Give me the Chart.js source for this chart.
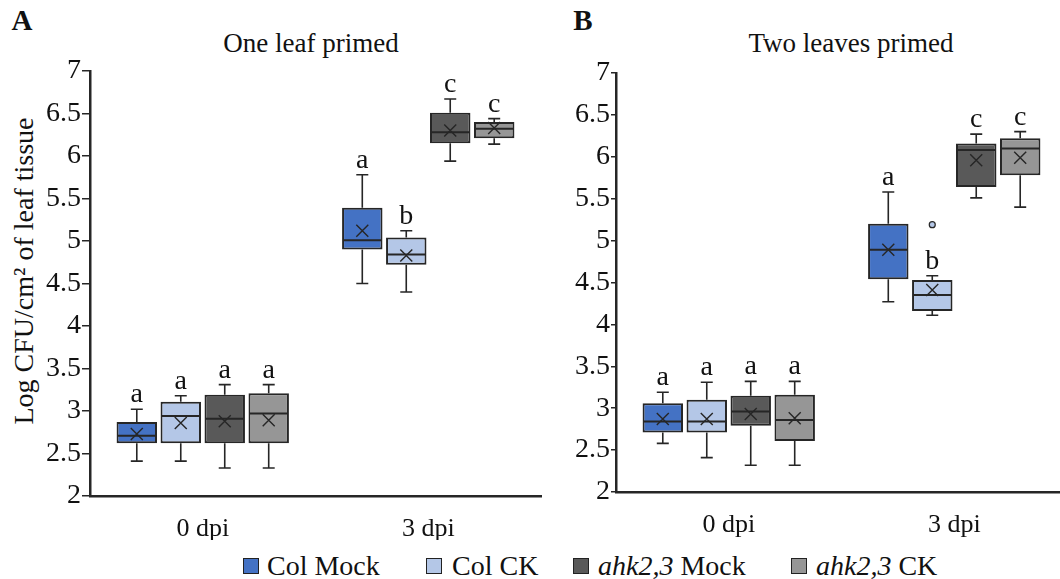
<!DOCTYPE html>
<html>
<head>
<meta charset="utf-8">
<script src="https://cdn.jsdelivr.net/npm/chart.js@4"></script>
<style>
  html, body { margin: 0; padding: 0; background: #fff; overflow: hidden; }
  body { width: 1060px; height: 579px; position: relative; font-family: "Liberation Serif", "Times New Roman", serif; color: #111; }
  canvas { position: absolute; top: 0; }
  .txt { position: absolute; white-space: nowrap; line-height: 1; transform: translate(-50%, -50%); }
  .letter { font-weight: bold; font-size: 29px; }
  .ptitle { font-size: 27px; }
  .ytitle { font-size: 28px; transform: translate(-50%, -50%) rotate(-90deg); }
  .leg { position: absolute; top: 552px; font-size: 28px; line-height: 28px; white-space: nowrap; }
  .sq { position: absolute; top: 558px; width: 14px; height: 14px; border: 1.5px solid #222; }
</style>
</head>
<body>

<div class="txt letter" style="left:22px; top:20px;">A</div>
<div class="txt letter" style="left:583px; top:20px;">B</div>
<div class="txt ptitle" style="left:311px; top:43px;">One leaf primed</div>
<div class="txt ptitle" style="left:851px; top:43px;">Two leaves primed</div>
<div class="txt ytitle" style="left:24px; top:271px;">Log CFU/cm² of leaf tissue</div>

<canvas id="chartA" width="560" height="540" style="left:0px;"></canvas>
<canvas id="chartB" width="560" height="540" style="left:530px;"></canvas>

<div class="sq" style="left:243px; background:#4472C4;"></div>
<div class="leg" style="left:267px;">Col Mock</div>
<div class="sq" style="left:426px; background:#B4C7E7;"></div>
<div class="leg" style="left:452px;">Col CK</div>
<div class="sq" style="left:573px; background:#595959;"></div>
<div class="leg" style="left:598px;"><i>ahk2,3</i> Mock</div>
<div class="sq" style="left:791px; background:#969696;"></div>
<div class="leg" style="left:816px;"><i>ahk2,3</i> CK</div>

<script>
// categories and series
const categories = ['0 dpi', '3 dpi'];
const seriesNames = ['Col Mock', 'Col CK', 'ahk2,3 Mock', 'ahk2,3 CK'];
const seriesColors = ['#4472C4', '#B4C7E7', '#595959', '#969696'];
const yTicks = [2, 2.5, 3, 3.5, 4, 4.5, 5, 5.5, 6, 6.5, 7];

// each box: [min, q1, median, q3, max, mean], one per category
const oneLeafColMock = [[2.41, 2.62, 2.71, 2.87, 3.02, 2.73], [4.50, 4.90, 5.01, 5.39, 5.78, 5.12]];
const oneLeafColCK = [[2.41, 2.62, 2.94, 3.11, 3.18, 2.86], [4.40, 4.72, 4.84, 5.04, 5.12, 4.83]];
const oneLeafAhkMock = [[2.33, 2.62, 2.91, 3.19, 3.31, 2.88], [5.94, 6.15, 6.28, 6.51, 6.67, 6.30]];
const oneLeafAhkCK = [[2.33, 2.62, 2.97, 3.21, 3.31, 2.89], [6.14, 6.21, 6.32, 6.40, 6.44, 6.33]];
const oneLeafLetters = [['a', 'a'], ['a', 'b'], ['a', 'c'], ['a', 'c']];
const oneLeafOutliers = [[[], []], [[], []], [[], []], [[], []]];

const twoLeavesColMock = [[2.58, 2.71, 2.84, 3.06, 3.19, 2.87], [4.27, 4.54, 4.89, 5.20, 5.58, 4.89]];
const twoLeavesColCK = [[2.41, 2.71, 2.84, 3.10, 3.31, 2.87], [4.11, 4.16, 4.35, 4.53, 4.58, 4.41]];
const twoLeavesAhkMock = [[2.32, 2.79, 2.96, 3.15, 3.32, 2.93], [5.51, 5.64, 6.08, 6.16, 6.27, 5.96]];
const twoLeavesAhkCK = [[2.32, 2.61, 2.86, 3.16, 3.32, 2.88], [5.40, 5.78, 6.10, 6.22, 6.30, 5.99]];
const twoLeavesLetters = [['a', 'a'], ['a', 'b'], ['a', 'c'], ['a', 'c']];
const twoLeavesOutliers = [[[], []], [[], [5.19]], [[], []], [[], []]];

const serif = '"Liberation Serif", "Times New Roman", serif';
const ink = '#262626';

// draws whiskers, median, mean cross, outliers and letters on top of the floating bars
const boxPlugin = {
    id: 'boxplot',
    afterDatasetsDraw(chart) {
        const ctx = chart.ctx;
        const y = chart.scales.y;
        chart.data.datasets.forEach((ds, di) => {
            const meta = chart.getDatasetMeta(di);
            meta.data.forEach((bar, i) => {
                const s = ds.stats[i];
                const x = bar.x;
                const half = bar.width / 2;
                const cap = 6;
                ctx.save();
                ctx.strokeStyle = ink;
                ctx.lineWidth = 1.6;
                // whiskers
                ctx.beginPath();
                ctx.moveTo(x, y.getPixelForValue(s[3]));
                ctx.lineTo(x, y.getPixelForValue(s[4]));
                ctx.moveTo(x - cap, y.getPixelForValue(s[4]));
                ctx.lineTo(x + cap, y.getPixelForValue(s[4]));
                ctx.moveTo(x, y.getPixelForValue(s[1]));
                ctx.lineTo(x, y.getPixelForValue(s[0]));
                ctx.moveTo(x - cap, y.getPixelForValue(s[0]));
                ctx.lineTo(x + cap, y.getPixelForValue(s[0]));
                ctx.stroke();
                // median
                ctx.lineWidth = 2;
                ctx.beginPath();
                ctx.moveTo(x - half + 1, y.getPixelForValue(s[2]));
                ctx.lineTo(x + half - 1, y.getPixelForValue(s[2]));
                ctx.stroke();
                // mean
                const my = y.getPixelForValue(s[5]);
                ctx.lineWidth = 1.4;
                ctx.beginPath();
                ctx.moveTo(x - 6, my - 6);
                ctx.lineTo(x + 6, my + 6);
                ctx.moveTo(x + 6, my - 6);
                ctx.lineTo(x - 6, my + 6);
                ctx.stroke();
                // outliers
                ds.outliers[i].forEach(v => {
                    ctx.beginPath();
                    ctx.arc(x, y.getPixelForValue(v), 3, 0, Math.PI * 2);
                    ctx.fillStyle = ds.backgroundColor;
                    ctx.fill();
                    ctx.lineWidth = 1.2;
                    ctx.stroke();
                });
                // significance letter
                ctx.fillStyle = '#111';
                ctx.font = '28px ' + serif;
                ctx.textAlign = 'center';
                ctx.textBaseline = 'alphabetic';
                ctx.fillText(ds.letters[i], x, y.getPixelForValue(s[4]) - 7);
                ctx.restore();
            });
        });
    }
};

function makePanel(canvasId, boxes, letters, outliers, area) {
    const datasets = boxes.map((b, k) => ({
        label: seriesNames[k],
        data: b.map(s => [s[1], s[3]]),
        stats: b,
        letters: letters[k],
        outliers: outliers[k],
        backgroundColor: seriesColors[k],
        borderColor: ink,
        borderWidth: 2,
        borderSkipped: false,
        categoryPercentage: 0.78,
        barPercentage: 0.92
    }));

    return new Chart(document.getElementById(canvasId), {
        type: 'bar',
        data: { labels: categories, datasets: datasets },
        options: {
            responsive: false,
            animation: false,
            layout: { padding: { left: 0, top: area.top, right: area.right, bottom: 0 } },
            plugins: {
                legend: { display: false },
                title: { display: false },
                tooltip: { enabled: false }
            },
            scales: {
                x: {
                    grid: { display: false },
                    border: { display: true, color: ink, width: 2.5 },
                    ticks: { color: '#111', font: { family: serif, size: 26 }, padding: 10 },
                    afterFit: (scale) => { scale.height = area.xHeight; }
                },
                y: {
                    min: 2,
                    max: 7,
                    afterBuildTicks: (scale) => { scale.ticks = yTicks.map(v => ({ value: v })); },
                    grid: { drawOnChartArea: false, drawTicks: true, tickLength: area.tick, color: ink, lineWidth: 1.5 },
                    border: { display: true, color: ink, width: 2.5 },
                    ticks: {
                        color: '#111',
                        font: { family: serif, size: 28 },
                        padding: 1,
                        callback: (v) => String(v)
                    },
                    afterFit: (scale) => { scale.width = area.left; }
                }
            }
        },
        plugins: [boxPlugin]
    });
}

makePanel('chartA',
    [oneLeafColMock, oneLeafColCK, oneLeafAhkMock, oneLeafAhkCK],
    oneLeafLetters, oneLeafOutliers,
    { left: 90, top: 71, right: 19, xHeight: 44, tick: 8 });

makePanel('chartB',
    [twoLeavesColMock, twoLeavesColCK, twoLeavesAhkMock, twoLeavesAhkCK],
    twoLeavesLetters, twoLeavesOutliers,
    { left: 86, top: 73, right: 23, xHeight: 48, tick: 5 });
</script>
</body>
</html>
